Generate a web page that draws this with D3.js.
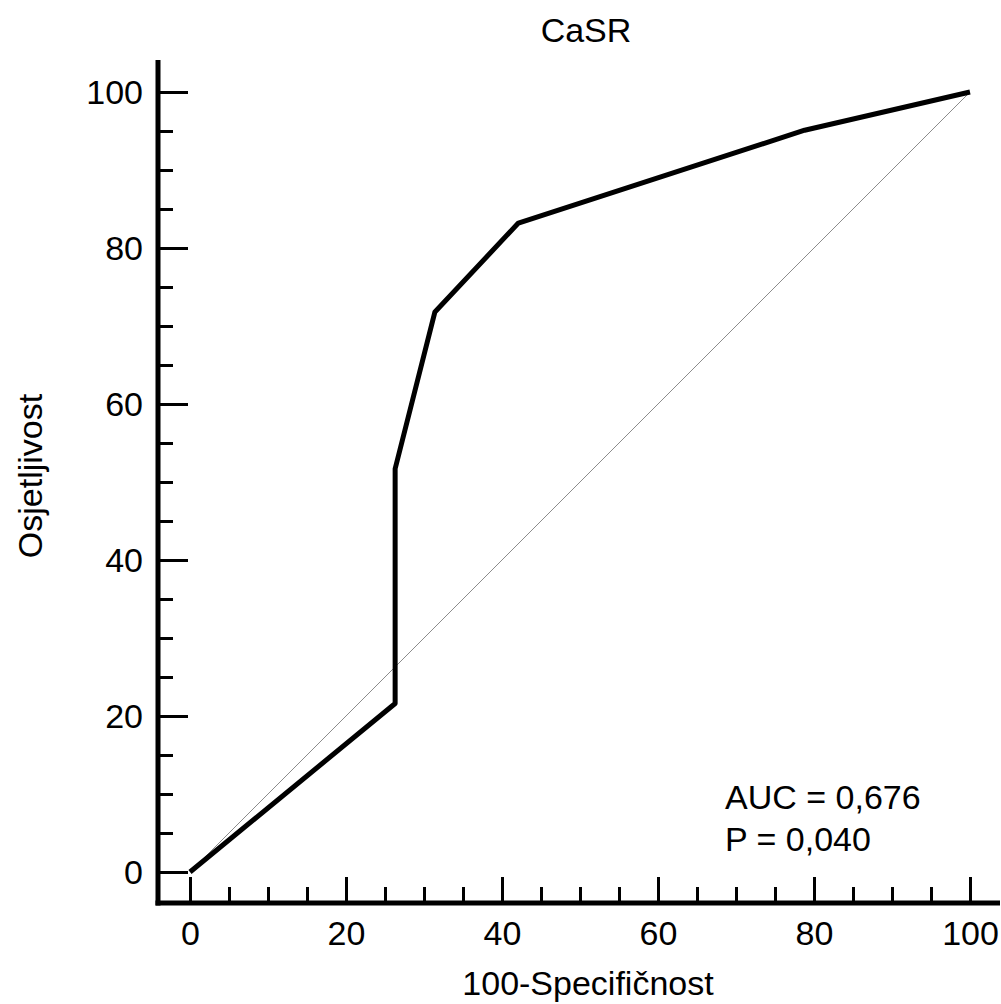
<!DOCTYPE html>
<html>

<head>
  <meta charset="UTF-8">
  <title>CaSR</title>
  <style>
    body { margin: 0; background: #fff; }
    text { font-family: Arial, "Liberation Sans", sans-serif; fill: #000; }
  </style>
</head>

<body>
  <script src="https://cdn.jsdelivr.net/npm/d3@7"></script>
  <script>
    // ROC curve points (100-specificity, sensitivity)
    const fpr = [0, 26.3, 26.3, 31.4, 42.1, 78.8, 100]
    const tpr = [0, 21.6, 51.7, 71.8, 83.2, 95.1, 100]
    const majorTicks = [0, 20, 40, 60, 80, 100]
    const minorTicks = [5, 10, 15, 25, 30, 35, 45, 50, 55, 65, 70, 75, 85, 90, 95]
    const title = 'CaSR'
    const xLabel = '100-Specifičnost'
    const yLabel = 'Osjetljivost'
    const notes = ['AUC = 0,676', 'P = 0,040']

    const width = 1001,
      height = 1004

    const svg = d3.select('body')
      .append('svg')
      .attr('width', width)
      .attr('height', height)

    const x = d3.scaleLinear()
      .domain([0, 100])
      .range([190, 970])

    const y = d3.scaleLinear()
      .domain([0, 100])
      .range([872, 92])

    const axisX = 158, axisY = 903

    // diagonal reference line
    svg.append('line')
      .attr('x1', x(0)).attr('y1', y(0))
      .attr('x2', x(100)).attr('y2', y(100))
      .attr('stroke', '#8c8c8c')
      .attr('stroke-width', 1)

    // ROC curve
    const pts = fpr.map((d, i) => [d, tpr[i]])
    svg.append('path')
      .datum(pts)
      .attr('fill', 'none')
      .attr('stroke', '#000')
      .attr('stroke-width', 5)
      .attr('stroke-linejoin', 'round')
      .attr('d', d3.line().x(d => x(d[0])).y(d => y(d[1])))

    // x axis
    const gx = svg.append('g')
      .attr('transform', `translate(0, ${axisY})`)
    gx.call(d3.axisBottom(x).tickValues(majorTicks).tickSize(-26).tickFormat(d3.format('d')))
    gx.append('g').call(d3.axisBottom(x).tickValues(minorTicks).tickSize(-16).tickFormat(''))
    gx.selectAll('.domain').remove()
    gx.selectAll('.tick line').attr('stroke', '#000').attr('stroke-width', 3)
    gx.selectAll('.tick text')
      .attr('y', 42).attr('dy', 0)
      .style('font-size', '34px')
      .style('font-family', 'Arial, "Liberation Sans", sans-serif')
      .attr('fill', '#000')

    // y axis
    const gy = svg.append('g')
      .attr('transform', `translate(${axisX}, 0)`)
    gy.call(d3.axisLeft(y).tickValues(majorTicks).tickSize(-30).tickPadding(15).tickFormat(d3.format('d')))
    gy.append('g').call(d3.axisLeft(y).tickValues(minorTicks).tickSize(-15).tickFormat(''))
    gy.selectAll('.domain').remove()
    gy.selectAll('.tick line').attr('stroke', '#000').attr('stroke-width', 3)
    gy.selectAll('.tick text')
      .attr('dy', '0.35em')
      .style('font-size', '34px')
      .style('font-family', 'Arial, "Liberation Sans", sans-serif')
      .attr('fill', '#000')

    // axis lines
    svg.append('line')
      .attr('x1', axisX).attr('y1', 60)
      .attr('x2', axisX).attr('y2', axisY + 2.5)
      .attr('stroke', '#000').attr('stroke-width', 5)
    svg.append('line')
      .attr('x1', axisX - 2.5).attr('y1', axisY)
      .attr('x2', 1000).attr('y2', axisY)
      .attr('stroke', '#000').attr('stroke-width', 5)

    // title and labels
    svg.append('text')
      .attr('x', 586).attr('y', 42)
      .attr('text-anchor', 'middle')
      .style('font-size', '34px')
      .text(title)

    svg.append('text')
      .attr('x', 588).attr('y', 995)
      .attr('text-anchor', 'middle')
      .style('font-size', '34px')
      .text(xLabel)

    svg.append('text')
      .attr('transform', 'translate(42, 476) rotate(-90)')
      .attr('text-anchor', 'middle')
      .style('font-size', '34px')
      .text(yLabel)

    svg.selectAll('text.note')
      .data(notes).enter()
      .append('text')
      .classed('note', true)
      .attr('x', 725)
      .attr('y', (d, i) => 809 + i * 42)
      .style('font-size', '34px')
      .text(d => d)
  </script>
</body>

</html>
